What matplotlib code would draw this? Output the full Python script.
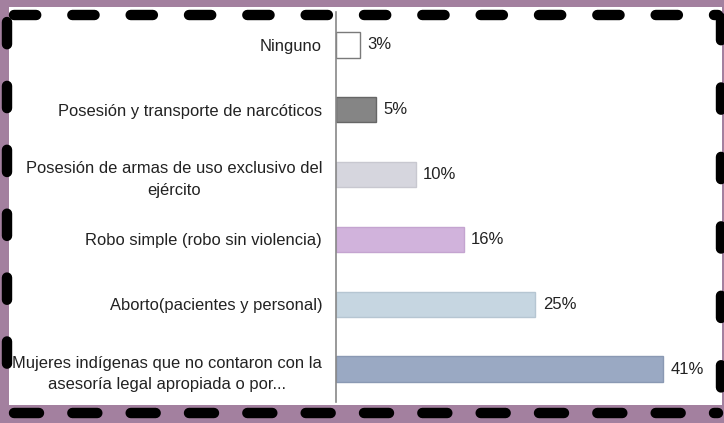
import numpy as np
import matplotlib
matplotlib.use('Agg')
import matplotlib.pyplot as plt
from matplotlib.lines import Line2D
from matplotlib.patches import Rectangle

plt.rcParams['font.family'] = ['Liberation Sans', 'DejaVu Sans']
plt.rcParams['lines.scale_dashes'] = False

# data, top to bottom
categories = ['Ninguno',
              'Posesión y transporte de narcóticos',
              'Posesión de armas de uso exclusivo del\nejército',
              'Robo simple (robo sin violencia)',
              'Aborto(pacientes y personal)',
              'Mujeres indígenas que no contaron con la\nasesoría legal apropiada o por...']
values = [3, 5, 10, 16, 25, 41]
colors = ['#ffffff', '#858585', '#d6d6de', '#d1b3dc', '#c6d6e1', '#9aa9c3']
edges = ['#7a7a7a', '#666666', '#c8c8d0', '#c4a4d0', '#b6c6d2', '#8a99b3']

W, H = 724, 423
fig = plt.figure(figsize=(W / 100, H / 100), dpi=100)
fig.patch.set_facecolor('#a3809f')

# white panel
fig.add_artist(Rectangle((9 / W, 1 - 405 / H), (722 - 9) / W, (405 - 7) / H,
                         transform=fig.transFigure, facecolor='white',
                         edgecolor='none', zorder=0))

ax = fig.add_axes([336 / W, 1 - 401.5 / H, (715 - 336) / W, (401.5 - 12.5) / H])
ax.set_facecolor('none')
y = np.arange(len(categories))
ax.barh(y, values, height=0.39, color=colors, edgecolor=edges, linewidth=1)
ax.set_ylim(len(categories) - 0.5, -0.5)
ax.set_xlim(0, 47.5)
ax.set_yticks(y)
ax.set_yticklabels(categories, fontsize=11.9, color='#222222',
                   multialignment='center', linespacing=1.55)
ax.tick_params(axis='y', length=0, pad=10)
ax.set_xticks([])
for s in ['top', 'right', 'bottom']:
    ax.spines[s].set_visible(False)
ax.spines['left'].set_color('#888888')
ax.spines['left'].set_linewidth(1.2)
for yi, v in zip(y, values):
    ax.text(v + 0.9, yi, '%d%%' % v, va='center', ha='left', fontsize=12, color='#222222')

# hand-drawn style dashed frame
lw = 7.5
def dashed(xs, ys, on, off):
    ln = Line2D([x / W for x in xs], [1 - v / H for v in ys], transform=fig.transFigure,
                color='black', linewidth=lw, linestyle=(0, (on, off)),
                dash_capstyle='round', zorder=5)
    fig.add_artist(ln)

dashed([14, 718], [15, 15], 16, 26)
dashed([14, 718], [413, 413], 18, 24)
dashed([7, 7], [22, 405], 16, 30)
dashed([721, 721], [18, 405], 16, 34)

fig.savefig('out.png', dpi=100, facecolor=fig.get_facecolor())
